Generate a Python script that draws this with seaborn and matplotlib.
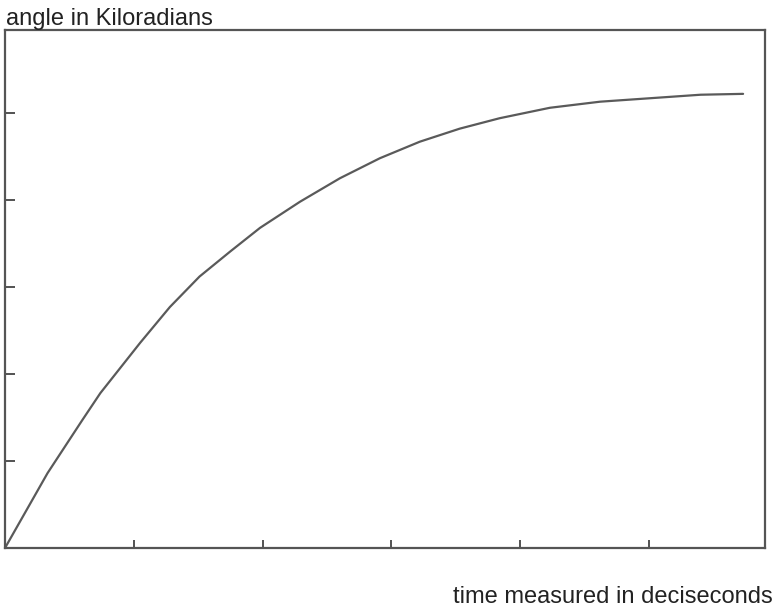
import matplotlib
matplotlib.use("Agg")
import matplotlib.pyplot as plt
import seaborn as sns
import pandas as pd

# Angle response over time
time_ds = [0.00, 0.33, 0.60, 0.74, 1.05, 1.28, 1.51, 1.75, 1.98, 2.29,
           2.60, 2.91, 3.22, 3.53, 3.84, 4.23, 4.62, 5.01, 5.40, 5.73]
angle_krad = [0.00, 0.86, 1.47, 1.78, 2.36, 2.77, 3.12, 3.41, 3.68, 3.98,
              4.25, 4.48, 4.67, 4.82, 4.94, 5.06, 5.13, 5.17, 5.21, 5.22]
x_ticks = [1, 2, 3, 4, 5]
y_ticks = [1, 2, 3, 4, 5]

df = pd.DataFrame({"time": time_ds, "angle": angle_krad})

sns.set_theme(style="white")
plt.rcParams["font.family"] = ["Liberation Sans", "DejaVu Sans"]

W, H = 779, 612
fig = plt.figure(figsize=(W / 100, H / 100), dpi=100)
left, right, top, bottom = 5, 765, 30, 548
ax = fig.add_axes([left / W, (H - bottom) / H, (right - left) / W, (bottom - top) / H])

sns.lineplot(data=df, x="time", y="angle", ax=ax, color="#5a5a5a",
             linewidth=1.6, estimator=None, sort=False,
             solid_joinstyle="round", solid_capstyle="round")

ax.set_xlim(0, 5.90)
ax.set_ylim(0, 5.954)
ax.set_xticks(x_ticks)
ax.set_yticks(y_ticks)
ax.set_xticklabels([])
ax.set_yticklabels([])
ax.set_xlabel("")
ax.set_ylabel("")
ax.tick_params(axis="x", direction="in", length=6, width=1.3, color="#444444", bottom=True)
ax.tick_params(axis="y", direction="in", length=7, width=1.3, color="#444444", left=True)
for s in ax.spines.values():
    s.set_visible(True)
    s.set_color("#555555")
    s.set_linewidth(1.6)

fig.text(6 / W, 1 - 25 / H, "angle in Kiloradians", fontsize=17,
         color="#222222", ha="left", va="baseline")
fig.text(773 / W, 1 - 603 / H, "time measured in deciseconds", fontsize=17,
         color="#222222", ha="right", va="baseline")

fig.savefig("out.png", dpi=100, facecolor="white")
